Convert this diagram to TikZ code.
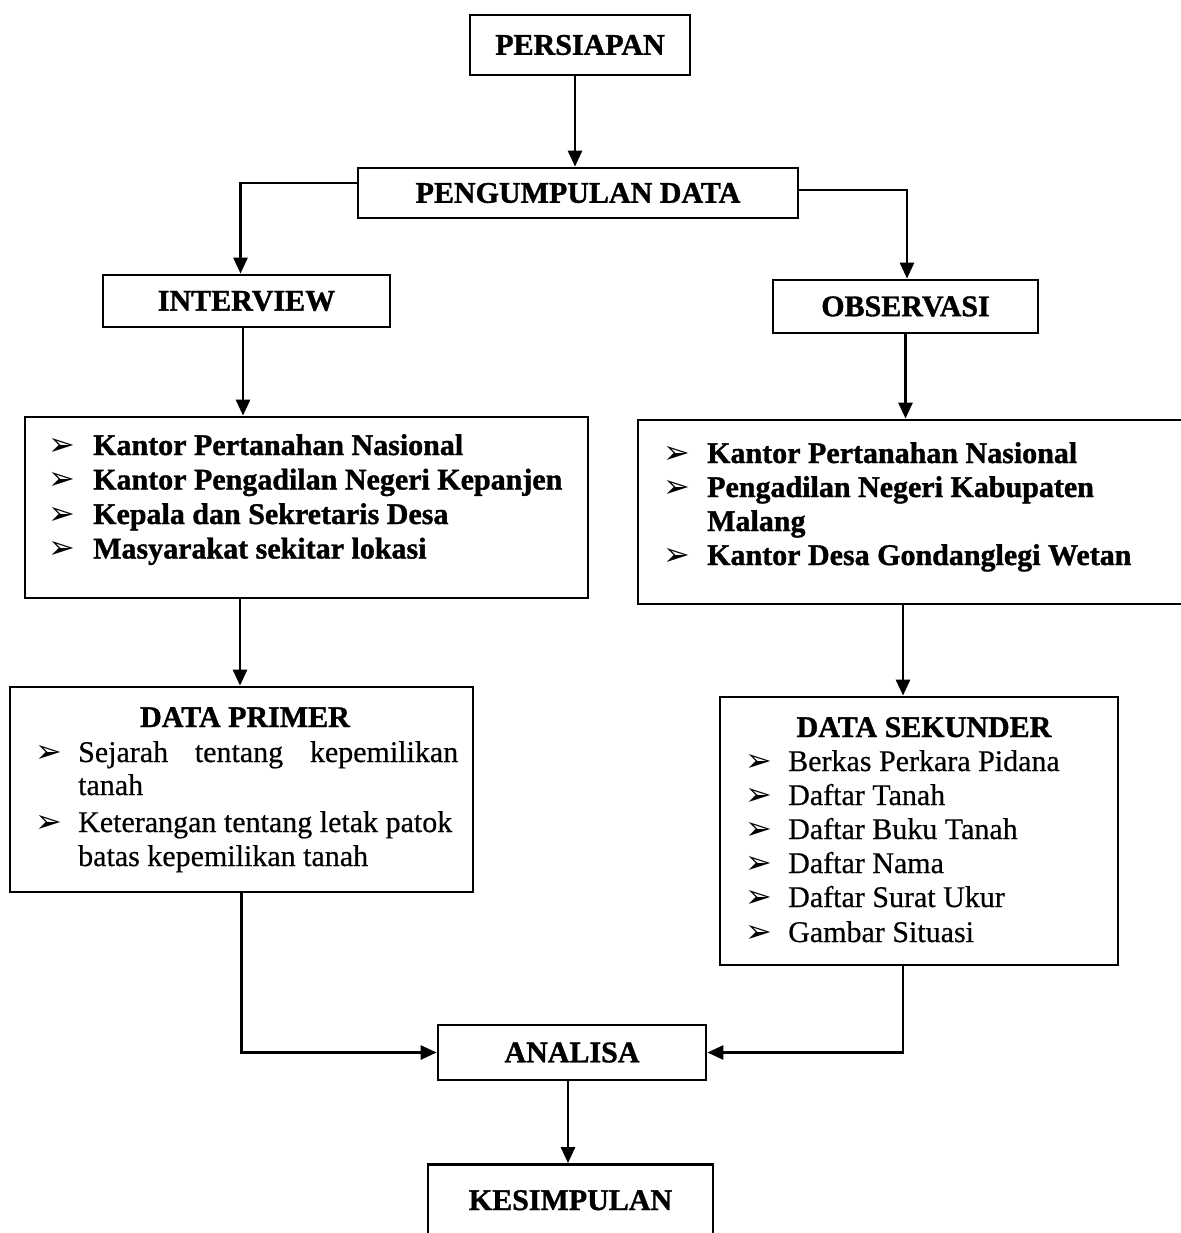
\documentclass[tikz,border=0pt]{standalone}
\usepackage{fontspec}
\setmainfont{Liberation Serif}[UprightFeatures={FakeBold=0.5},BoldFeatures={FakeBold=1.2}]
\newfontfamily\symf{DejaVu Sans}
\usetikzlibrary{arrows.meta}
\tikzset{
  box/.style={draw, line width=2.8pt, inner sep=0pt, font=\fontsize{30}{34}\selectfont\bfseries},
  itemb/.style={anchor=base west, inner sep=0pt, font=\fontsize{30}{34}\selectfont\bfseries},
  itemr/.style={anchor=base west, inner sep=0pt, font=\fontsize{30}{34}\selectfont},
  head/.style={anchor=base, inner sep=0pt, font=\fontsize{30}{34}\selectfont\bfseries},
  bul/.style={anchor=base west, inner sep=0pt, font=\symf\fontsize{32}{34}\selectfont},
  arr/.style={line width=2.8pt, -{Triangle[length=16pt,width=14pt]}},
}
\begin{document}
\begin{tikzpicture}[x=1pt,y=-1pt]
\useasboundingbox[fill=white] (0,0) rectangle (1180,1233);

% boxes
\node[box, minimum width=220pt, minimum height=60pt] (persiapan) at (580,45) {PERSIAPAN};
\node[box, minimum width=440pt, minimum height=50pt] (pengumpulan) at (578,193) {PENGUMPULAN DATA};
\node[box, minimum width=287pt, minimum height=52pt] (interview) at (246.5,301) {INTERVIEW};
\node[box, minimum width=265pt, minimum height=53pt] (observasi) at (905.5,306.5) {OBSERVASI};
\node[box, minimum width=563pt, minimum height=181pt] (leftlist) at (306.5,507.5) {};
\node[box, minimum width=547pt, minimum height=184pt] (rightlist) at (911.5,512) {};
\node[box, minimum width=463pt, minimum height=205pt] (dataprimer) at (241.5,789.5) {};
\node[box, minimum width=398pt, minimum height=268pt] (datasekunder) at (919,831) {};
\node[box, minimum width=268pt, minimum height=55pt] (analisa) at (572,1052.5) {ANALISA};
\node[box, minimum width=285pt, minimum height=95pt, text height=20pt, text depth=24pt] (kesimpulan) at (570.5,1212) {KESIMPULAN};

% left list
\node[bul] (lb1) at (48,455) {➢};
\node[itemb] (lt1) at (93,455) {Kantor Pertanahan Nasional};
\node[bul] (lb2) at (48,489.5) {➢};
\node[itemb] (lt2) at (93,489.5) {Kantor Pengadilan Negeri Kepanjen};
\node[bul] (lb3) at (48,524) {➢};
\node[itemb] (lt3) at (93,524) {Kepala dan Sekretaris Desa};
\node[bul] (lb4) at (48,558.5) {➢};
\node[itemb] (lt4) at (93,558.5) {Masyarakat sekitar lokasi};

% right list
\node[bul] (rb1) at (663,463) {➢};
\node[itemb] (rt1) at (707,463) {Kantor Pertanahan Nasional};
\node[bul] (rb2) at (663,497) {➢};
\node[itemb] (rt2) at (707,497) {Pengadilan Negeri Kabupaten};
\node[itemb] (rt2b) at (707,531) {Malang};
\node[bul] (rb3) at (663,565) {➢};
\node[itemb] (rt3) at (707,565) {Kantor Desa Gondanglegi Wetan};

% data primer
\node[head] (dph) at (245,727) {DATA PRIMER};
\node[bul] (pb1) at (35,762) {➢};
\node[itemr] (pt1) at (78,762) {\makebox[380pt][s]{Sejarah\hfill tentang\hfill kepemilikan}};
\node[itemr] (pt1b) at (78,795) {tanah};
\node[bul] (pb2) at (35,832) {➢};
\node[itemr] (pt2) at (78,832) {Keterangan tentang letak patok};
\node[itemr] (pt2b) at (78,866) {batas kepemilikan tanah};

% data sekunder
\node[head] (dsh) at (924,737) {DATA SEKUNDER};
\node[bul] (sb1) at (745,771) {➢};
\node[itemr] (st1) at (788,771) {Berkas Perkara Pidana};
\node[bul] (sb2) at (745,805) {➢};
\node[itemr] (st2) at (788,805) {Daftar Tanah};
\node[bul] (sb3) at (745,839) {➢};
\node[itemr] (st3) at (788,839) {Daftar Buku Tanah};
\node[bul] (sb4) at (745,873) {➢};
\node[itemr] (st4) at (788,873) {Daftar Nama};
\node[bul] (sb5) at (745,907) {➢};
\node[itemr] (st5) at (788,907) {Daftar Surat Ukur};
\node[bul] (sb6) at (745,942) {➢};
\node[itemr] (st6) at (788,942) {Gambar Situasi};

% connectors
\draw[arr] ([xshift=-5pt]persiapan.south) -- ([xshift=-5pt]persiapan.south |- pengumpulan.north);
\draw[arr] ([yshift=10pt]pengumpulan.west) -| ([xshift=-6pt]interview.north);
\draw[arr] ([yshift=3pt]pengumpulan.east) -| ([xshift=1.5pt]observasi.north);
\draw[arr] ([xshift=-3.5pt]interview.south) -- ([xshift=-3.5pt]interview.south |- leftlist.north);
\draw[arr] (observasi.south) -- (observasi.south |- rightlist.north);
\draw[arr] ([xshift=-66.5pt]leftlist.south) -- ([xshift=-66.5pt]leftlist.south |- dataprimer.north);
\draw[arr] ([xshift=-8.5pt]rightlist.south) -- ([xshift=-8.5pt]rightlist.south |- datasekunder.north);
\draw[arr] (dataprimer.south) |- (analisa.west);
\draw[arr] ([xshift=-16pt]datasekunder.south) |- (analisa.east);
\draw[arr] ([xshift=-4pt]analisa.south) -- ([xshift=-4pt]analisa.south |- kesimpulan.north);
\end{tikzpicture}
\end{document}
